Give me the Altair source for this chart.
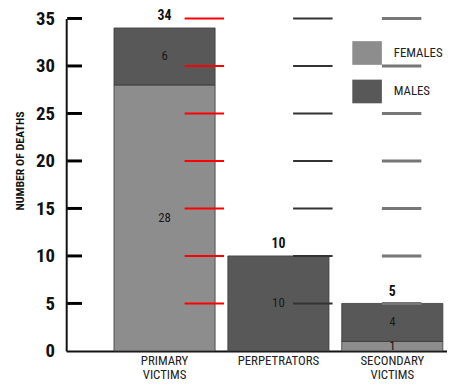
import altair as alt
import pandas as pd

categories = ["PRIMARY VICTIMS", "PERPETRATORS", "SECONDARY VICTIMS"]
females = [28, 0, 1]
males = [6, 10, 4]
sexes = ["FEMALES", "MALES"]
y_ticks = [5, 10, 15, 20, 25, 30, 35]

rows = []
for i, c in enumerate(categories):
    for k, (s, v) in enumerate(zip(sexes, [females[i], males[i]])):
        if v > 0:
            rows.append({"cat": c, "sex": s, "value": v, "ord": k})
df = pd.DataFrame(rows)
tick_df = pd.DataFrame({"tickval": y_ticks})

FONT = "Liberation Sans Narrow, Roboto Condensed, DejaVu Sans Condensed, Arial Narrow, sans-serif"

W, H = 386, 337
xscale = alt.Scale(domain=categories, paddingInner=0.112, paddingOuter=0.228, align=0.92)
yscale = alt.Scale(domain=[0, 35], nice=False)

base = alt.Chart(df)

bars = base.mark_bar(stroke="#3a3a3a", strokeWidth=0.8).encode(
    x=alt.X("cat:N", scale=xscale, sort=categories,
            axis=alt.Axis(title=None, labelAngle=0, ticks=False, domain=True,
                          domainColor="#111", domainWidth=2,
                          labelExpr="split(datum.label, ' ')",
                          labelFont=FONT, labelFontSize=13, labelLineHeight=14,
                          labelColor="#222", labelPadding=4, labelBaseline="top")),
    y=alt.Y("value:Q", stack="zero", scale=yscale,
            axis=alt.Axis(title="NUMBER OF DEATHS", values=y_ticks + [0], ticks=False,
                          grid=False, domainColor="#111", domainWidth=2,
                          labelFont=FONT, labelFontSize=19, labelFontWeight="bold",
                          labelColor="#111", labelPadding=12,
                          titleFont=FONT, titleFontSize=12, titleFontWeight="bold",
                          titleColor="#111", titleAngle=270, titleX=-47, titleY=144,
                          titleAlign="center", titleBaseline="middle")),
    color=alt.Color("sex:N", scale=alt.Scale(domain=sexes, range=["#8d8d8d", "#585858"]),
                    legend=alt.Legend(title=None, orient="none", legendX=290, legendY=20,
                                      symbolType="M-1,-0.8H1V0.8H-1Z", symbolSize=900,
                                      symbolStrokeWidth=0, symbolOpacity=1,
                                      labelFont=FONT, labelFontSize=13, labelColor="#222",
                                      labelOffset=12, rowPadding=12)),
    order=alt.Order("ord:Q", sort="ascending"),
)

seg_labels = base.transform_stack(
    stack="value", groupby=["cat"], as_=["y0", "y1"], sort=[alt.SortField("ord")]
).transform_calculate(mid="(datum.y0 + datum.y1) / 2").mark_text(
    font=FONT, fontSize=13, color="#1a1a1a", baseline="middle"
).encode(
    x=alt.X("cat:N", scale=xscale, sort=categories),
    y=alt.Y("mid:Q", scale=yscale),
    text=alt.Text("value:Q"),
)

totals = base.transform_aggregate(total="sum(value)", groupby=["cat"]).mark_text(
    font=FONT, fontSize=14, fontWeight="bold", color="#111", baseline="bottom", dy=-5
).encode(
    x=alt.X("cat:N", scale=xscale, sort=categories),
    y=alt.Y("total:Q", scale=yscale),
    text=alt.Text("total:Q"),
)

t1 = alt.Chart(tick_df).mark_rule(color="black", strokeWidth=3).encode(
    y=alt.Y("tickval:Q", scale=yscale), x=alt.value(1), x2=alt.value(16))
t2 = alt.Chart(tick_df).mark_rule(color="red", strokeWidth=2).encode(
    y=alt.Y("tickval:Q", scale=yscale), x=alt.value(120), x2=alt.value(160))
t3 = alt.Chart(tick_df).mark_rule(color="#333333", strokeWidth=2).encode(
    y=alt.Y("tickval:Q", scale=yscale), x=alt.value(230), x2=alt.value(270))
t4 = alt.Chart(tick_df).mark_rule(color="#777777", strokeWidth=3).encode(
    y=alt.Y("tickval:Q", scale=yscale), x=alt.value(320), x2=alt.value(360))

chart = alt.layer(bars, seg_labels, totals, t1, t2, t3, t4).properties(
    width=W, height=H,
    autosize=alt.AutoSizeParams(type="none"),
    padding={"left": 59, "top": 8, "right": 0, "bottom": 37},
    background="white",
).configure_view(stroke=None).configure_axis(grid=False)

chart.save("out.html", embed_options={"renderer": "svg", "actions": False})
